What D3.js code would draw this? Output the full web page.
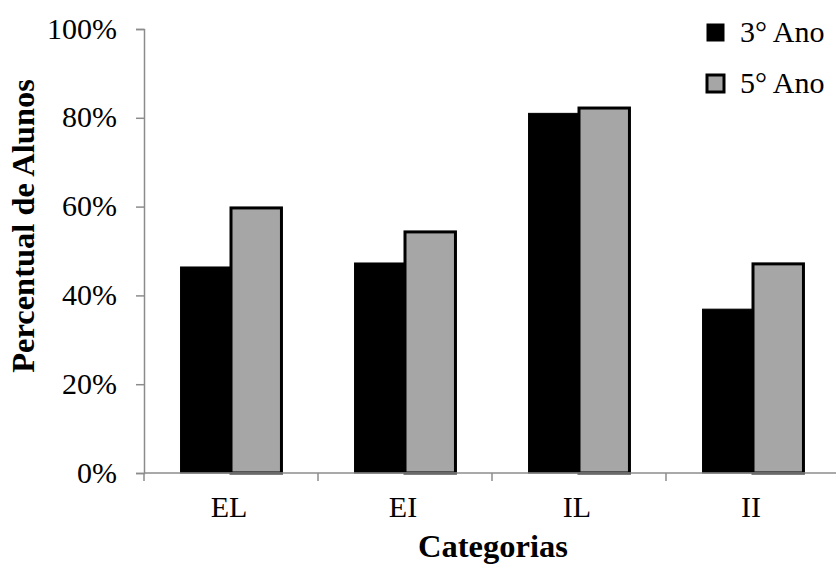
<!DOCTYPE html>
<html>
<head>
<meta charset="utf-8">
<script src="https://cdn.jsdelivr.net/npm/d3@7"></script>
<style>
  html, body { margin: 0; padding: 0; background: #fff; }
  text { font-family: "Liberation Serif", "Times New Roman", serif; fill: #000; }
</style>
</head>
<body>
<svg id="chart" width="836" height="565"></svg>
<script>
const categories = ["EL", "EI", "IL", "II"];
const seriesNames = ["3° Ano", "5° Ano"];
const ano3 = [46.4, 47.3, 81.0, 36.9];
const ano5 = [59.7, 54.3, 82.2, 47.1];
const yTicks = [0, 20, 40, 60, 80, 100];
const seriesColors = ["#000000", "#a6a6a6"];

const rows = categories.map((c, i) => ({ cat: c, values: [ano3[i], ano5[i]] }));

const svg = d3.select("#chart");
const margin = { left: 144, right: -4, top: 29, bottom: 92 };
const W = 836, H = 565;
const FS = "30px";
const TITLE_FS = "32.5px";

const x = d3.scaleBand().domain(categories)
  .range([margin.left, W - margin.right]).paddingInner(0).paddingOuter(0);
const y = d3.scaleLinear().domain([0, 100]).range([H - margin.bottom, margin.top]);

const inner = 0.42; // gap share of each category band
const x1 = d3.scaleBand().domain([0, 1])
  .range([x.bandwidth() * inner / 2, x.bandwidth() * (1 - inner / 2)]);

// bars
const groups = svg.append("g").selectAll("g").data(rows).join("g")
  .attr("transform", d => `translate(${x(d.cat)},0)`);

groups.selectAll("rect").data(d => d.values.map((v, k) => ({ v, k })))
  .join("rect")
  .attr("x", d => x1(d.k))
  .attr("width", x1.bandwidth())
  .attr("y", d => y(d.v))
  .attr("height", d => y(0) - y(d.v))
  .attr("fill", d => seriesColors[d.k])
  .attr("stroke", "#000")
  .attr("stroke-width", d => d.k === 1 ? 3 : 1);

// y axis
const yAxis = d3.axisLeft(y).tickValues(yTicks).tickSize(8).tickFormat(d => d + "%");
const gy = svg.append("g").attr("transform", `translate(${margin.left},0)`).call(yAxis);
gy.attr("font-size", null).attr("font-family", null);
gy.select(".domain").attr("stroke", "#8c8c8c").attr("stroke-width", 1.5);
gy.selectAll(".tick line").attr("stroke", "#8c8c8c").attr("stroke-width", 1.5);
gy.selectAll(".tick text").attr("x", -27).attr("dy", "0.3em")
  .style("font-size", FS).style("font-family", "Liberation Serif");

// x axis: baseline plus boundary ticks between categories
const gx = svg.append("g");
gx.append("line")
  .attr("x1", margin.left).attr("x2", W)
  .attr("y1", y(0)).attr("y2", y(0))
  .attr("stroke", "#8c8c8c").attr("stroke-width", 1.5);
gx.selectAll("line.bt").data(categories).join("line").attr("class", "bt")
  .attr("x1", d => x(d)).attr("x2", d => x(d))
  .attr("y1", y(0)).attr("y2", y(0) + 8)
  .attr("stroke", "#8c8c8c").attr("stroke-width", 1.5);
gx.selectAll("text").data(categories).join("text")
  .attr("x", d => x(d) + x.bandwidth() / 2 - 2)
  .attr("y", y(0) + 44)
  .attr("text-anchor", "middle")
  .style("font-size", FS)
  .text(d => d);

// axis titles
svg.append("text")
  .attr("x", 493).attr("y", 557)
  .attr("text-anchor", "middle")
  .style("font-size", TITLE_FS).style("font-weight", "bold")
  .text("Categorias");

svg.append("text")
  .attr("transform", `translate(34,226) rotate(-90)`)
  .attr("text-anchor", "middle")
  .style("font-size", TITLE_FS).style("font-weight", "bold")
  .text("Percentual de Alunos");

// legend
const legend = svg.append("g");
seriesNames.forEach((name, k) => {
  const ly = 24 + k * 51;
  legend.append("rect")
    .attr("x", 707).attr("y", ly)
    .attr("width", 17).attr("height", 17)
    .attr("fill", seriesColors[k])
    .attr("stroke", "#000").attr("stroke-width", k === 1 ? 3 : 1);
  legend.append("text")
    .attr("x", 740).attr("y", ly + 18)
    .style("font-size", FS)
    .text(name);
});
</script>
</body>
</html>
